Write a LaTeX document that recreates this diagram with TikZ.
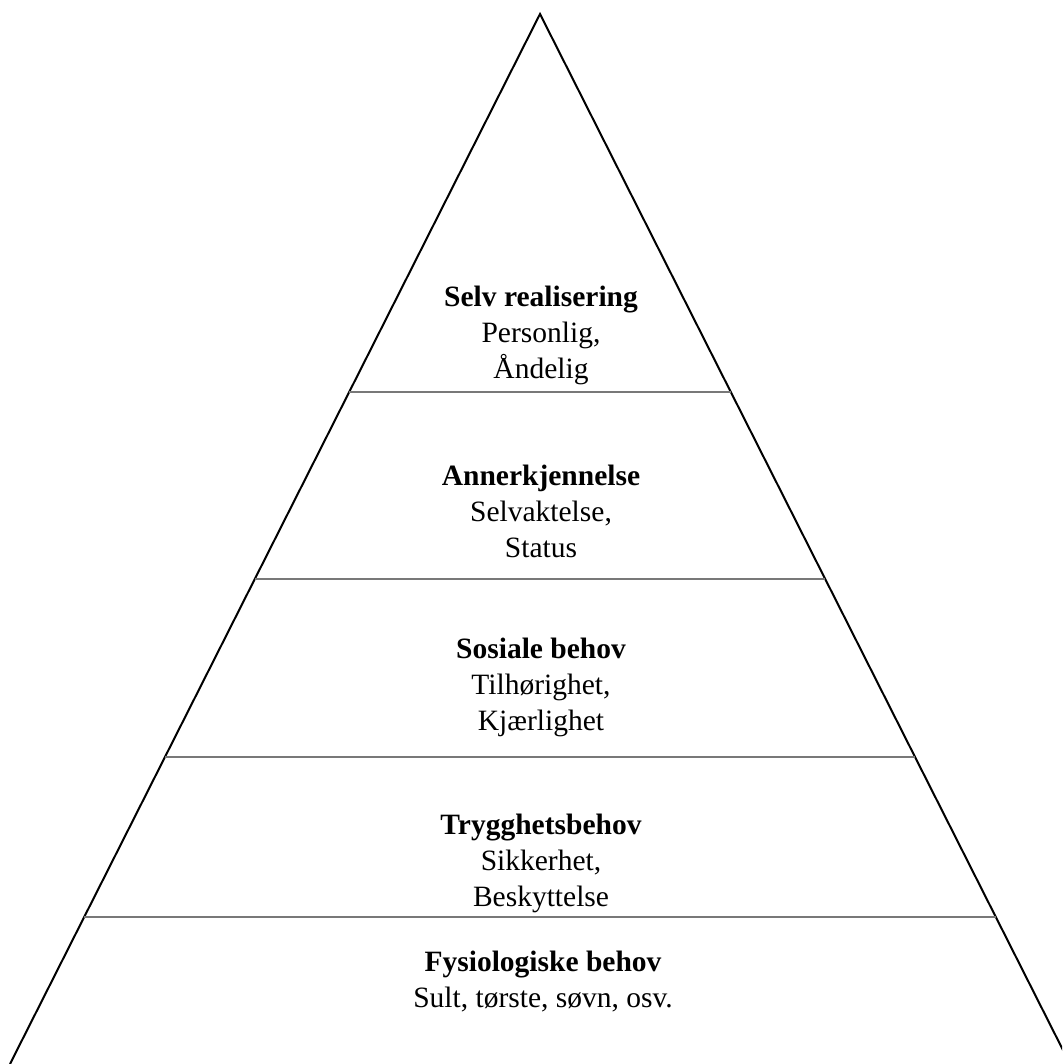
\documentclass[tikz,border=0pt]{standalone}
\usepackage{fontspec}
\setmainfont{Liberation Serif}
\usetikzlibrary{calc}
\definecolor{divider}{RGB}{120,120,120}
\tikzset{
  side/.style={line width=2pt, black, line join=miter},
  divline/.style={line width=2.2pt, divider},
  label/.style={align=center, inner sep=0pt, anchor=base, font=\fontsize{29.5}{36}\selectfont}
}
\begin{document}
\begin{tikzpicture}[x=1pt,y=-1pt]
\useasboundingbox (0,0) rectangle (1062,1064);
\clip (0,0) rectangle (1062,1064);
\coordinate (A) at (540,14);
\coordinate (BL) at (10,1064);
\coordinate (BR) at (1070,1064);
\draw[side] (BL) -- (A) -- (BR);
\foreach \t/\n in {0.36/a,0.538/b,0.7076/c,0.86/d}{
  \coordinate (L\n) at ($(A)!\t!(BL)$);
  \coordinate (R\n) at ($(A)!\t!(BR)$);
  \draw[divline] (L\n) -- (R\n);
}
\node[label] (t1) at (541,378) {\textbf{Selv realisering}\\Personlig,\\Åndelig};
\node[label] (t2) at (541,557) {\textbf{Annerkjennelse}\\Selvaktelse,\\Status};
\node[label] (t3) at (541,730) {\textbf{Sosiale behov}\\Tilhørighet,\\Kjærlighet};
\node[label] (t4) at (541,906) {\textbf{Trygghetsbehov}\\Sikkerhet,\\Beskyttelse};
\node[label] (t5) at (543,1007) {\textbf{Fysiologiske behov}\\Sult, tørste, søvn, osv.};
\end{tikzpicture}
\end{document}
